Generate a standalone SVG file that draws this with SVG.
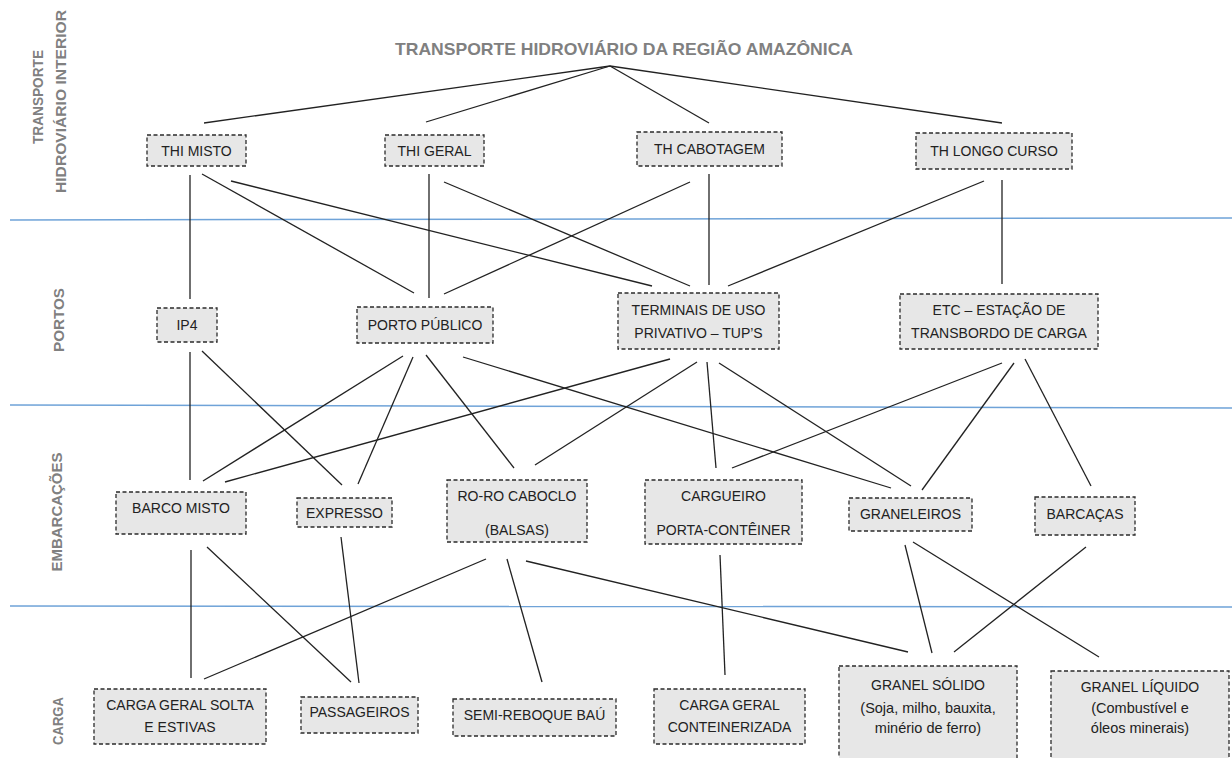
<svg xmlns="http://www.w3.org/2000/svg" width="1232" height="758" viewBox="0 0 1232 758">
<style>
.bg{fill:#ffffff}
.sep{stroke:#6fa3d8;stroke-width:1.5;fill:none}
.lbl{font-family:"Liberation Sans",Arial,sans-serif;font-weight:bold;font-size:15px;fill:#808080}
.title{font-family:"Liberation Sans",Arial,sans-serif;font-weight:bold;font-size:17px;fill:#808080}
.box{fill:#e7e7e7;stroke:#2b2b2b;stroke-width:1.3;stroke-dasharray:4 2.5}
.t{font-family:"Liberation Sans",Arial,sans-serif;font-size:14px;fill:#222222;text-anchor:middle}
.s{font-size:14.5px}
.c line{stroke:#222222;stroke-width:1.3}
</style>
<rect class="bg" x="0" y="0" width="1232" height="758"/>
<g id="separators">
<line class="sep" x1="10" y1="220" x2="1232" y2="218"/>
<line class="sep" x1="10" y1="405" x2="1232" y2="408"/>
<line class="sep" x1="10" y1="606" x2="1232" y2="607"/>
</g>
<g id="row-labels">
<text class="lbl" text-anchor="middle" transform="translate(43,97) rotate(-90)" textLength="94" lengthAdjust="spacingAndGlyphs">TRANSPORTE</text>
<text class="lbl" text-anchor="middle" transform="translate(66,101.5) rotate(-90)" textLength="183" lengthAdjust="spacingAndGlyphs">HIDROVIÁRIO INTERIOR</text>
<text class="lbl" text-anchor="middle" transform="translate(64,320) rotate(-90)" textLength="64" lengthAdjust="spacingAndGlyphs">PORTOS</text>
<text class="lbl" text-anchor="middle" transform="translate(62,512) rotate(-90)" textLength="119" lengthAdjust="spacingAndGlyphs">EMBARCAÇÕES</text>
<text class="lbl" text-anchor="middle" transform="translate(63,721) rotate(-90)" textLength="48" lengthAdjust="spacingAndGlyphs">CARGA</text>
</g>
<g id="title">
<text class="title" x="624" y="55" text-anchor="middle" textLength="458" lengthAdjust="spacingAndGlyphs">TRANSPORTE HIDROVIÁRIO DA REGIÃO AMAZÔNICA</text>
</g>
<g id="connectors" class="c">
<line x1="610" y1="66" x2="204" y2="123"/>
<line x1="610" y1="66" x2="426" y2="122"/>
<line x1="610" y1="66" x2="709" y2="123"/>
<line x1="610" y1="66" x2="1002" y2="123"/>
<line x1="190" y1="175" x2="190" y2="299"/>
<line x1="202" y1="174" x2="414" y2="293"/>
<line x1="231" y1="181" x2="652" y2="286"/>
<line x1="429" y1="174" x2="429" y2="298"/>
<line x1="444" y1="182" x2="690" y2="286"/>
<line x1="690" y1="182" x2="444" y2="294"/>
<line x1="709" y1="174" x2="709" y2="285"/>
<line x1="984" y1="181" x2="728" y2="286"/>
<line x1="1002" y1="180" x2="1002" y2="284"/>
<line x1="190" y1="352" x2="190" y2="480"/>
<line x1="202" y1="351" x2="342" y2="485"/>
<line x1="403" y1="356" x2="203" y2="481"/>
<line x1="413" y1="357" x2="358" y2="484"/>
<line x1="426" y1="355" x2="514" y2="468"/>
<line x1="463" y1="357" x2="891" y2="488"/>
<line x1="670" y1="359" x2="225" y2="482"/>
<line x1="697" y1="362" x2="535" y2="465"/>
<line x1="707" y1="362" x2="716" y2="468"/>
<line x1="719" y1="363" x2="911" y2="486"/>
<line x1="1002" y1="363" x2="732" y2="468"/>
<line x1="1014" y1="363" x2="922" y2="490"/>
<line x1="1025" y1="359" x2="1091" y2="486"/>
<line x1="191" y1="550" x2="191" y2="678"/>
<line x1="207" y1="547" x2="351" y2="682"/>
<line x1="341" y1="537" x2="359" y2="683"/>
<line x1="486" y1="559" x2="204" y2="679"/>
<line x1="507" y1="559" x2="542" y2="682"/>
<line x1="526" y1="561" x2="908" y2="652"/>
<line x1="720" y1="555" x2="725" y2="675"/>
<line x1="905" y1="545" x2="932" y2="653"/>
<line x1="913" y1="542" x2="1099" y2="657"/>
<line x1="1086" y1="547" x2="954" y2="652"/>
</g>
<g id="thi-misto"><rect class="box" x="147" y="135" width="99" height="31"/><text class="t" x="196.5" y="155.5">THI MISTO</text></g>
<g id="thi-geral"><rect class="box" x="385" y="135" width="99" height="31"/><text class="t" x="434.5" y="155.5">THI GERAL</text></g>
<g id="th-cabotagem"><rect class="box" x="637" y="132" width="145" height="34"/><text class="t" x="709.5" y="154">TH CABOTAGEM</text></g>
<g id="th-longo-curso"><rect class="box" x="916" y="133" width="156" height="36"/><text class="t" x="994" y="156">TH LONGO CURSO</text></g>
<g id="ip4"><rect class="box" x="157" y="308" width="60" height="34"/><text class="t" x="187" y="330">IP4</text></g>
<g id="porto-publico"><rect class="box" x="357" y="307" width="136" height="36"/><text class="t" x="425" y="330">PORTO PÚBLICO</text></g>
<g id="terminais"><rect class="box" x="618" y="293" width="161" height="56"/><text class="t" x="698.5" y="315">TERMINAIS DE USO</text><text class="t" x="698.5" y="338">PRIVATIVO – TUP’S</text></g>
<g id="etc"><rect class="box" x="900" y="294" width="198" height="55"/><text class="t" x="999" y="315">ETC – ESTAÇÃO DE</text><text class="t" x="999" y="338">TRANSBORDO DE CARGA</text></g>
<g id="barco-misto"><rect class="box" x="116" y="492" width="130" height="42"/><text class="t" x="181" y="512.5">BARCO MISTO</text></g>
<g id="expresso"><rect class="box" x="297" y="498" width="95" height="29"/><text class="t" x="344.5" y="517.5">EXPRESSO</text></g>
<g id="ro-ro"><rect class="box" x="447" y="480" width="140" height="62"/><text class="t" x="517" y="501">RO-RO CABOCLO</text><text class="t" x="517" y="535">(BALSAS)</text></g>
<g id="cargueiro"><rect class="box" x="645" y="480" width="157" height="64"/><text class="t" x="723.5" y="501">CARGUEIRO</text><text class="t" x="723.5" y="535">PORTA-CONTÊINER</text></g>
<g id="graneleiros"><rect class="box" x="849" y="498" width="123" height="33"/><text class="t" x="910.5" y="519">GRANELEIROS</text></g>
<g id="barcacas"><rect class="box" x="1035" y="497" width="100" height="38"/><text class="t" x="1085" y="519">BARCAÇAS</text></g>
<g id="carga-geral-solta"><rect class="box" x="94" y="689" width="172" height="55"/><text class="t" x="180" y="710">CARGA GERAL SOLTA</text><text class="t" x="180" y="732">E ESTIVAS</text></g>
<g id="passageiros"><rect class="box" x="301" y="697" width="117" height="36"/><text class="t" x="359.5" y="717">PASSAGEIROS</text></g>
<g id="semi-reboque"><rect class="box" x="453" y="699" width="163" height="37"/><text class="t" x="534.5" y="720">SEMI-REBOQUE BAÚ</text></g>
<g id="carga-conteinerizada"><rect class="box" x="654" y="689" width="151" height="55"/><text class="t" x="729.5" y="710">CARGA GERAL</text><text class="t" x="729.5" y="732">CONTEINERIZADA</text></g>
<g id="granel-solido"><rect class="box" x="839" y="666" width="178" height="104"/><text class="t" x="928" y="690">GRANEL SÓLIDO</text><text class="t s" x="928" y="713">(Soja, milho, bauxita,</text><text class="t s" x="928" y="733">minério de ferro)</text></g>
<g id="granel-liquido"><rect class="box" x="1051" y="671" width="178" height="99"/><text class="t" x="1140" y="692">GRANEL LÍQUIDO</text><text class="t s" x="1140" y="713">(Combustível e</text><text class="t s" x="1140" y="733">óleos minerais)</text></g>
</svg>
